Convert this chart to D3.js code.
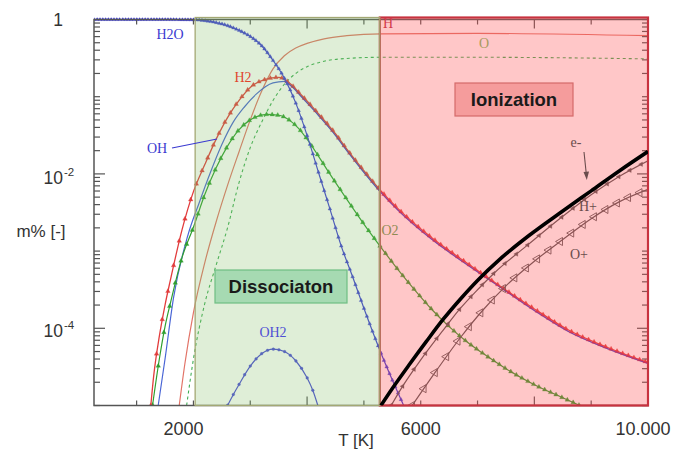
<!DOCTYPE html>
<html><head><meta charset="utf-8">
<script src="https://cdn.jsdelivr.net/npm/d3@7"></script>
<style>body{margin:0;background:#fff}svg{display:block}</style>
</head><body>
<svg id="c" width="690" height="453"></svg>
<script>
// ---------- data (T in K, mass fraction) ----------
const T_H2O = [250,1500,2000,2200,2400,2600,2800,3000,3200,3400,3600,3800,4000,4200,4400,4600,4800,5000,5300,5700];
const V_H2O = [1,1,0.993,0.966,0.912,0.832,0.724,0.603,0.457,0.295,0.174,0.0832,0.0316,0.0105,0.00355,0.00117,4.68e-4,1.82e-4,4.79e-5,1e-5];

const T_H2 = [1250,1300,1400,1500,1600,1800,2000,2200,2400,2600,2800,3000,3250,3500,3700,3900,4200,4500,4700,5000,5300,5600,6200,6800,7400,8000,8600,9300,10000];
const V_H2 = [1e-5,2.4e-5,7.9e-5,2.0e-4,4.4e-4,1.9e-3,5.9e-3,0.0132,0.0282,0.0537,0.0891,0.132,0.166,0.178,0.148,0.105,0.0603,0.0331,0.0209,0.011,0.00603,0.00355,0.00148,7.1e-4,3.5e-4,1.78e-4,9.5e-5,5.6e-5,3.6e-5];

const T_OH = [1380,1500,1650,1900,2100,2300,2500,2700,2900,3100,3400,3600,3750,3900,4200,4500,4700,5000,5300,5600,6200,6800,7400,8000,8600,9300,10000];
const V_OH = [1e-5,4.0e-5,2.5e-4,1.58e-3,4.2e-3,0.0105,0.024,0.0468,0.0741,0.107,0.151,0.158,0.132,0.1,0.0575,0.0316,0.02,0.0105,0.00575,0.00339,0.00141,6.8e-4,3.4e-4,1.7e-4,9.1e-5,5.4e-5,3.5e-5];

const T_O2 = [1280,1400,1500,1600,1800,2000,2200,2400,2600,2800,3000,3300,3500,3700,3850,4000,4200,4400,4700,5000,5300,5600,5900,6200,6500,6800,7100,7500,8000,8500,8800];
const V_O2 = [1e-5,4.0e-5,1.05e-4,2.2e-4,8.3e-4,2.04e-3,5.4e-3,0.012,0.0229,0.0372,0.0501,0.0589,0.0575,0.049,0.0389,0.0282,0.017,0.01,0.00468,0.00224,0.00112,5.75e-4,3.1e-4,1.74e-4,1.05e-4,6.8e-5,4.7e-5,3.0e-5,1.86e-5,1.26e-5,1e-5];

const T_H = [1750,1850,2000,2200,2400,2600,2800,3000,3200,3400,3600,3800,4000,4300,4700,5300,7000,10000];
const V_H = [1e-5,3.5e-5,1.6e-4,7.1e-4,2.4e-3,7.1e-3,0.0191,0.0501,0.1175,0.229,0.339,0.427,0.49,0.562,0.617,0.653,0.661,0.617];

const T_O = [1880,2000,2200,2400,2600,2800,3000,3200,3400,3600,3800,4000,4300,4700,5300,7000,10000];
const V_O = [1e-5,4.0e-5,2.1e-4,6.6e-4,2.0e-3,7.6e-3,0.0219,0.0468,0.0891,0.145,0.2,0.245,0.288,0.313,0.324,0.324,0.309];

const T_OH2 = [2600,2700,2800,3000,3200,3400,3600,3800,4000,4100,4190];
const V_OH2 = [1e-5,1.38e-5,1.86e-5,3.24e-5,4.68e-5,5.37e-5,5.0e-5,3.8e-5,2.29e-5,1.58e-5,1e-5];

const T_E = [5300,5500,5800,6100,6400,6700,7000,7400,7900,8500,9000,9500,10000];
const V_E = [1e-5,1.66e-5,3.39e-5,6.76e-5,1.32e-4,2.4e-4,4.17e-4,7.94e-4,1.58e-3,3.31e-3,6.03e-3,0.011,0.0195];

const T_HP = [5480,5700,6000,6400,6700,7000,7300,7900,8500,9000,9500,10000];
const V_HP = [1e-5,1.86e-5,3.89e-5,9.55e-5,1.82e-4,3.16e-4,5.25e-4,1.23e-3,2.82e-3,5.37e-3,9.33e-3,0.0148];

const T_OP = [5850,6300,6700,7100,7500,8000,8500,9000,9500,10000];
const V_OP = [1e-5,3.0e-5,7.6e-5,1.74e-4,3.55e-4,7.4e-4,1.41e-3,2.63e-3,4.37e-3,6.31e-3];

const xDomain = [250, 10000];
const yDomain = [1e-5, 1];
const xMajorTicks = [4000, 8000];
const xMinorTicks = [1000,2000,3000,5000,6000,7000,9000,10000];
const xTickLabels = ["2000","6000","10.000"];
const xTickLabelValues = [2000,6000,10000];
const yTickLabelValues = [1,1e-2,1e-4];
const yTickLabels = ["1","10","10"];
const yTickSup = ["","-2","-4"];
const regionBounds = [2030, 5280, 10000]; // dissociation start, ionization start, end

// ---------- scales ----------
const svg = d3.select("#c");
const L=94, R=648, TOP=19.5, BOT=405.5;
const x = d3.scaleLinear().domain(xDomain).range([L,R]);
const y = d3.scaleLog().domain(yDomain).range([BOT,TOP]);

svg.append("defs").append("clipPath").attr("id","clip")
  .append("rect").attr("x",L).attr("y",TOP-2).attr("width",R-L).attr("height",BOT-TOP+2);

const line = d3.line().x(d=>x(d[0])).y(d=>y(d[1])).curve(d3.curveMonotoneX);
const pairs = (T,V)=>T.map((t,i)=>[t,V[i]]);

const gCurves = svg.append("g").attr("clip-path","url(#clip)");

function drawSeries(T,V,opt){
  const p = gCurves.append("path").datum(pairs(T,V)).attr("d",line)
    .attr("fill","none").attr("stroke",opt.color).attr("stroke-width",opt.width||1.2)
    .attr("stroke-opacity",opt.opacity||1)
    .attr("stroke-dasharray",opt.dash||null);
  if(opt.marker){
    const node=p.node(); const Ltot=node.getTotalLength(); const pts=[];
    for(let l=0;l<=Ltot;l+=0.4) pts.push(node.getPointAtLength(l));
    const ts=d3.range(T[0], T[T.length-1]+1, opt.step);
    ts.forEach(t=>{
      const px=x(t); let q=null;
      for(const pt of pts){ if(pt.x>=px){q=pt;break;} }
      if(!q || q.y>BOT+1) return;
      gCurves.append("path").attr("d",d3.symbol().type(opt.marker).size(opt.msize)())
        .attr("transform",`translate(${q.x},${q.y}) rotate(${opt.rot||0})`)
        .attr("fill",opt.open?"none":opt.mcolor||opt.color)
        .attr("stroke",opt.mcolor||opt.color).attr("stroke-width",opt.open?0.9:0.3);
    });
  }
  return p;
}

drawSeries(T_O,V_O,{color:"#3fae55",width:1.1,dash:"3,3"});
drawSeries(T_H,V_H,{color:"#e27468",width:1.2});
drawSeries(T_OH2,V_OH2,{color:"#4a4ad8",width:1.2,marker:d3.symbolCircle,msize:6,step:100});
drawSeries(T_OH,V_OH,{color:"#4a66d6",width:1.2});
drawSeries(T_O2,V_O2,{color:"#2f9f2f",width:1.2,marker:d3.symbolTriangle,msize:9,step:100});
drawSeries(T_H2,V_H2,{color:"#e23c3c",width:1.3,marker:d3.symbolTriangle,msize:9,step:100});
// OH runs on top of H2 after the maximum: the two lines merge (purple-red tint)
const iMerge = T_OH.indexOf(3600);
drawSeries(T_OH.slice(iMerge),V_OH.slice(iMerge),{color:"#5a0aa0",width:1.3,opacity:0.45});
drawSeries(T_H2O,V_H2O,{color:"#3c3cd6",width:1.2,marker:d3.symbolTriangle,msize:6,step:50});
drawSeries(T_HP,V_HP,{color:"#555",width:1.2,marker:d3.symbolTriangle,msize:9,step:200,rot:-90});
drawSeries(T_OP,V_OP,{color:"#555",width:1.2,marker:d3.symbolTriangle,msize:28,step:200,rot:-90,open:true});

// ---------- frame + ticks ----------
const gAx = svg.append("g").attr("stroke","#555").attr("stroke-width",1.2);
gAx.append("rect").attr("x",L).attr("y",TOP).attr("width",R-L).attr("height",BOT-TOP).attr("fill","none").attr("stroke-width",1.5);
xMinorTicks.forEach(t=>{
  gAx.append("line").attr("x1",x(t)).attr("x2",x(t)).attr("y1",BOT).attr("y2",BOT-5);
  gAx.append("line").attr("x1",x(t)).attr("x2",x(t)).attr("y1",TOP).attr("y2",TOP+5);
});
xMajorTicks.forEach(t=>{
  gAx.append("line").attr("x1",x(t)).attr("x2",x(t)).attr("y1",BOT).attr("y2",BOT-9);
  gAx.append("line").attr("x1",x(t)).attr("x2",x(t)).attr("y1",TOP).attr("y2",TOP+9);
});
for(let e=-5;e<0;e++){
  for(let m=2;m<=9;m++){
    const v=m*Math.pow(10,e), yy=y(v);
    gAx.append("line").attr("x1",L).attr("x2",L+6).attr("y1",yy).attr("y2",yy);
    gAx.append("line").attr("x1",R).attr("x2",R-6).attr("y1",yy).attr("y2",yy);
  }
}
for(let e=-5;e<=0;e++){
  const yy=y(Math.pow(10,e)); const big = (e===-2||e===-4);
  gAx.append("line").attr("x1",L).attr("x2",L+(big?11:6)).attr("y1",yy).attr("y2",yy);
  gAx.append("line").attr("x1",R).attr("x2",R-(big?11:6)).attr("y1",yy).attr("y2",yy);
}

// ---------- region overlays ----------
svg.append("rect").attr("x",x(regionBounds[1])).attr("y",TOP-2).attr("width",x(regionBounds[2])-x(regionBounds[1])).attr("height",BOT-TOP+2)
  .attr("fill","rgb(255,80,85)").attr("fill-opacity",0.32).attr("stroke","#c8323f").attr("stroke-width",2.2);
svg.append("rect").attr("x",x(regionBounds[0])).attr("y",TOP-2).attr("width",x(regionBounds[1])-x(regionBounds[0])).attr("height",BOT-TOP+2)
  .attr("fill","rgb(130,190,100)").attr("fill-opacity",0.26).attr("stroke","#a3a874").attr("stroke-width",1.3);

// e- on top of the overlay
svg.append("g").attr("clip-path","url(#clip)").append("path").datum(pairs(T_E,V_E)).attr("d",line)
  .attr("fill","none").attr("stroke","#000").attr("stroke-width",3.6);

// ---------- boxes ----------
svg.append("rect").attr("x",455).attr("y",83).attr("width",118).attr("height",33)
  .attr("fill","#f59c9c").attr("stroke","#d46a6a").attr("stroke-width",1.2);
svg.append("text").attr("x",514).attr("y",105.5).attr("text-anchor","middle")
  .attr("font-family","Liberation Sans, Arial, sans-serif").attr("font-weight","bold").attr("font-size",18.5).attr("fill","#1a1a1a").text("Ionization");
svg.append("rect").attr("x",215).attr("y",270).attr("width",132).attr("height",33)
  .attr("fill","#a6dab2").attr("stroke","#6fbf83").attr("stroke-width",1.2);
svg.append("text").attr("x",281).attr("y",292.5).attr("text-anchor","middle")
  .attr("font-family","Liberation Sans, Arial, sans-serif").attr("font-weight","bold").attr("font-size",18.5).attr("fill","#1a1a1a").text("Dissociaton");

// ---------- curve labels ----------
const serif="Liberation Serif, Times New Roman, serif";
function lab(t,xx,yy,c,fs){svg.append("text").attr("x",xx).attr("y",yy).attr("text-anchor","middle").attr("font-family",serif).attr("font-size",fs||14).attr("fill",c).text(t);}
lab("H2O",170,39,"#3a3ad0");
lab("H2",243,82,"#e0452e");
lab("OH",157,153,"#3a3ad0");
lab("H",388,28,"#d23a4a");
lab("O",484,48,"#a99a5e");
lab("O2",390,235,"#8f8a52");
lab("OH2",273,337,"#5050d4");
lab("e-",576,147,"#6a4c4c");
lab("H+",588,211,"#6a4c4c");
lab("O+",579,259,"#6a4c4c");
svg.append("line").attr("x1",172).attr("y1",148).attr("x2",217).attr("y2",139).attr("stroke","#3a3ad0").attr("stroke-width",1.2);
svg.append("line").attr("x1",584).attr("y1",152).attr("x2",586.5).attr("y2",176).attr("stroke","#6a4c4c").attr("stroke-width",1.1);
svg.append("path").attr("d","M583.5,172 L586.8,180 L589,171.6 Z").attr("fill","#6a4c4c");

// ---------- axis labels ----------
const sans="Liberation Sans, Arial, sans-serif";
const xLabOff=[-10,0,-5];
xTickLabels.forEach((s,i)=>{
  svg.append("text").attr("x",x(xTickLabelValues[i])+xLabOff[i]).attr("y",435).attr("text-anchor","middle")
    .attr("font-family",sans).attr("font-size",18).attr("fill","#333").text(s);
});
svg.append("text").attr("x",356).attr("y",446).attr("text-anchor","middle").attr("font-family",sans).attr("font-size",17).attr("fill","#333").text("T [K]");
const yLabOff=[6,10,9];
yTickLabelValues.forEach((v,i)=>{
  svg.append("text").attr("x",63).attr("y",y(v)+yLabOff[i]).attr("text-anchor","end")
    .attr("font-family",sans).attr("font-size",17.5).attr("fill","#333").text(yTickLabels[i]);
  if(yTickSup[i]) svg.append("text").attr("x",64).attr("y",y(v)+yLabOff[i]-8).attr("font-family",sans).attr("font-size",11.5).attr("fill","#333").text(yTickSup[i]);
});
svg.append("text").attr("x",41).attr("y",237).attr("text-anchor","middle").attr("font-family",sans).attr("font-size",17).attr("fill","#333").text("m% [-]");
</script>
</body></html>
